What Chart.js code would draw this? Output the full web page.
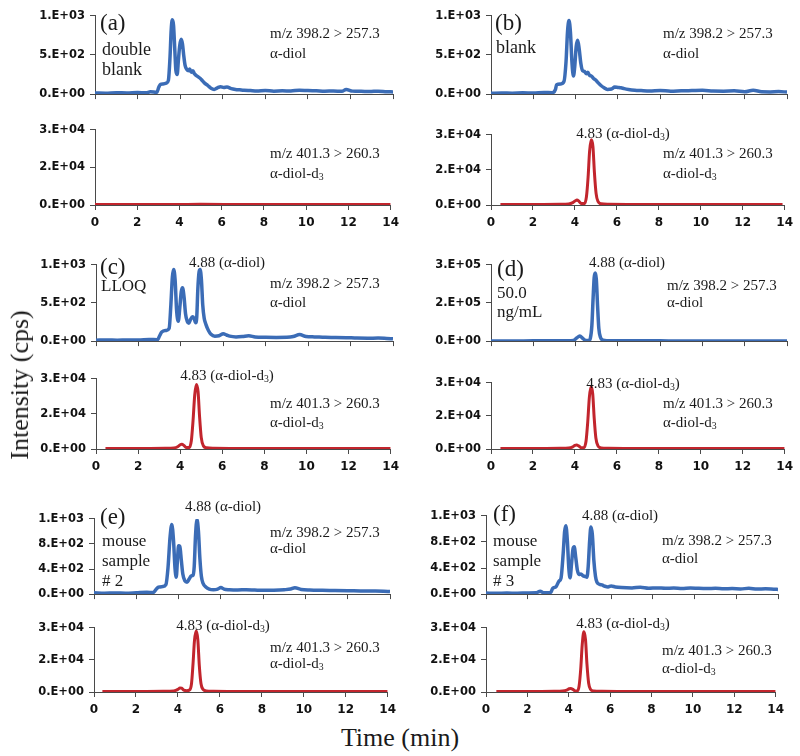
<!DOCTYPE html>
<html>
<head>
<meta charset="utf-8">
<script src="https://cdn.jsdelivr.net/npm/chart.js@4.4.0/dist/chart.umd.min.js"></script>
<style>
body { margin: 0; background: #fff; }
#fig { position: relative; width: 800px; height: 756px; overflow: hidden; }
#fig canvas { position: absolute; }
.t { position: absolute; font-family: "Liberation Serif", "Times New Roman", serif; color: #1a1a1a;
     white-space: nowrap; line-height: 1; transform: translateY(-50%); }
.t.c { transform: translate(-50%, -50%); }
.t sub { font-size: 65%; vertical-align: -0.3em; line-height: 0; }
</style>
</head>
<body>
<div id="fig"></div>
<script>
// tick labels (Excel "0.E+00" style)
const ticksDiol = ['0.E+00', '5.E+02', '1.E+03'];
const ticksDiolHi = ['0.E+00', '2.E+05', '3.E+05'];
const ticksMouse = ['0.E+00', '4.E+02', '8.E+02', '1.E+03'];
const ticksD3 = ['0.E+00', '2.E+04', '3.E+04'];

// m/z 398.2 > 257.3 (alpha-diol), [time min, cps]
const diolA = [[0,15],[0.5,12],[1,18],[1.5,14],[2,20],[2.4,16],[2.6,30],[2.9,22],[3.0,90],[3.08,125],[3.2,130],[3.35,140],
  [3.45,180],[3.52,450],[3.58,820],[3.63,950],[3.69,880],[3.75,560],[3.8,300],[3.86,250],[3.92,440],[3.98,620],[4.05,700],
  [4.11,640],[4.17,490],[4.23,370],[4.3,320],[4.38,300],[4.45,320],[4.52,280],[4.6,300],[4.67,260],[4.75,240],[4.85,220],
  [4.95,200],[5.05,170],[5.15,140],[5.3,110],[5.45,75],[5.6,60],[5.75,80],[5.9,95],[6.05,85],[6.2,90],[6.4,70],[6.6,60],
  [6.8,55],[7.0,50],[7.3,45],[7.6,40],[8.0,45],[8.4,38],[8.8,42],[9.2,40],[9.6,50],[10.0,45],[10.4,42],[10.8,38],[11.2,40],
  [11.6,35],[11.8,60],[12.1,38],[12.5,35],[12.9,32],[13.3,38],[13.7,30],[14,28]];
const diolB = [[0,10],[0.5,14],[1,12],[1.5,16],[2,14],[2.5,20],[2.9,18],[3.05,60],[3.1,120],[3.3,130],[3.45,160],[3.55,420],
  [3.62,800],[3.69,940],[3.76,780],[3.83,400],[3.9,230],[3.96,350],[4.03,610],[4.1,690],[4.17,580],[4.25,390],[4.33,300],
  [4.42,290],[4.5,260],[4.58,280],[4.66,240],[4.75,230],[4.85,200],[4.95,180],[5.05,150],[5.2,110],[5.35,80],[5.5,60],
  [5.7,65],[5.85,90],[6.0,85],[6.15,80],[6.3,70],[6.5,60],[6.8,50],[7.1,45],[7.5,40],[8,45],[8.5,38],[9,42],[9.5,45],
  [10,48],[10.5,40],[11,38],[11.5,42],[12,30],[12.4,50],[12.8,30],[13.2,28],[13.6,32],[14,26]];
const diolC = [[0,12],[0.5,15],[1,12],[1.5,15],[2,14],[2.5,22],[2.9,18],[3.0,70],[3.1,120],[3.3,140],[3.45,170],[3.53,480],
  [3.6,840],[3.66,940],[3.73,800],[3.8,400],[3.88,260],[3.95,440],[4.02,650],[4.08,700],[4.15,580],[4.22,360],[4.3,260],
  [4.38,235],[4.45,280],[4.55,320],[4.62,300],[4.7,240],[4.75,320],[4.8,680],[4.86,910],[4.91,940],[4.97,800],[5.03,480],
  [5.1,300],[5.18,220],[5.3,140],[5.42,90],[5.6,65],[5.8,70],[6.0,95],[6.15,80],[6.3,65],[6.6,55],[6.9,60],[7.2,70],
  [7.5,55],[8,50],[8.5,48],[9,50],[9.3,60],[9.6,85],[9.9,60],[10.3,55],[10.8,50],[11.3,48],[11.8,45],[12.3,40],[12.8,38],
  [13.3,40],[13.7,35],[14,30]];
const diolD = [[0,800],[1,800],[2,900],[3,900],[3.6,1200],[3.9,3000],[4.05,12000],[4.2,20000],[4.35,10000],[4.5,2000],
  [4.62,2000],[4.7,12000],[4.77,60000],[4.83,170000],[4.88,250000],[4.93,268000],[4.98,245000],[5.04,140000],[5.1,50000],
  [5.18,14000],[5.3,4000],[5.5,1500],[6,1000],[8,900],[10,800],[12,800],[14,700]];
const diolE = [[0,20],[0.5,15],[1,18],[1.5,15],[2,22],[2.5,30],[2.8,25],[2.95,80],[3.05,110],[3.25,120],[3.4,150],[3.5,420],
  [3.6,920],[3.68,1110],[3.76,860],[3.83,420],[3.89,270],[3.95,560],[4.0,770],[4.06,760],[4.13,540],[4.2,320],[4.3,210],
  [4.4,190],[4.5,240],[4.6,290],[4.68,300],[4.74,440],[4.8,920],[4.87,1190],[4.94,1000],[5.01,560],[5.08,280],[5.16,170],
  [5.3,110],[5.45,80],[5.65,70],[5.85,80],[6.0,105],[6.15,80],[6.4,70],[6.8,65],[7.2,70],[7.6,65],[8,60],[8.5,62],[9,70],
  [9.3,80],[9.5,100],[9.8,75],[10.2,65],[10.8,60],[11.4,58],[12,55],[12.6,50],[13.2,48],[13.7,45],[14,40]];
const diolF = [[0,15],[0.5,12],[1,15],[1.5,14],[2,18],[2.4,20],[2.6,45],[2.75,20],[3.1,25],[3.2,90],[3.35,110],[3.5,200],
  [3.6,250],[3.7,620],[3.77,960],[3.83,1050],[3.9,820],[3.97,400],[4.03,250],[4.1,460],[4.17,690],[4.23,725],[4.3,570],
  [4.38,370],[4.46,300],[4.55,310],[4.65,280],[4.75,270],[4.84,260],[4.9,420],[4.97,820],[5.03,1030],[5.1,910],[5.17,520],
  [5.25,270],[5.32,180],[5.45,150],[5.56,140],[5.7,120],[5.85,110],[6.0,125],[6.2,110],[6.5,100],[7,95],[7.4,105],[7.8,90],
  [8.2,95],[8.6,90],[9,92],[9.4,85],[9.8,95],[10.2,88],[10.6,85],[11,90],[11.4,82],[11.8,85],[12.2,80],[12.6,88],[13,78],
  [13.4,82],[13.8,75],[14,72]];

// m/z 401.3 > 260.3 (alpha-diol-d3)
const d3A = [[0,150],[2,170],[4,220],[5,250],[7,200],[10,180],[14,150]];
const d3B = [[0.45,200],[1.5,220],[2.5,250],[3.3,280],[3.7,400],[3.9,1000],[4.02,1800],[4.1,2100],[4.2,1500],[4.32,600],
  [4.45,600],[4.55,3500],[4.63,12000],[4.7,23000],[4.78,27900],[4.86,25000],[4.93,14000],[5.01,5000],[5.1,1500],[5.25,500],
  [5.6,300],[6.5,250],[8,250],[10,230],[12,220],[13.9,200]];
const d3C = [[0.45,200],[1.5,220],[2.5,250],[3.3,300],[3.7,450],[3.9,1100],[4.0,1800],[4.08,2000],[4.18,1500],[4.3,600],
  [4.42,600],[4.53,3500],[4.61,12000],[4.69,23000],[4.77,27600],[4.85,24500],[4.92,14000],[5.0,5000],[5.1,1400],[5.25,500],
  [5.6,300],[6.5,250],[8,240],[10,230],[12,220],[14,200]];
const d3D = [[0.45,200],[1.5,220],[2.5,250],[3.3,300],[3.7,450],[3.9,1000],[4.0,1600],[4.08,1800],[4.18,1400],[4.3,600],
  [4.42,600],[4.53,3500],[4.61,12000],[4.69,23500],[4.77,28200],[4.85,25000],[4.92,14000],[5.0,5000],[5.1,1400],[5.25,500],
  [5.6,300],[6.5,250],[8,240],[10,230],[12,220],[14,200]];
const d3E = [[0.4,200],[1.5,220],[2.5,250],[3.3,300],[3.8,500],[4.0,1200],[4.1,1900],[4.18,1800],[4.28,900],[4.42,600],
  [4.55,900],[4.65,4000],[4.72,13000],[4.79,24000],[4.87,28500],[4.95,24500],[5.02,12500],[5.1,4000],[5.2,1200],[5.35,500],
  [5.7,300],[6.5,250],[8,240],[10,230],[12,220],[14,200]];
const d3F = [[0.5,200],[1.5,220],[2.5,250],[3.3,300],[3.7,450],[3.9,900],[4.02,1500],[4.1,1600],[4.2,1200],[4.32,500],
  [4.42,550],[4.5,2800],[4.58,11000],[4.65,22000],[4.73,28200],[4.81,24500],[4.88,13000],[4.96,4200],[5.05,1300],[5.2,500],
  [5.6,300],[6.5,250],[8,240],[10,230],[12,220],[14,200]];

const BLUE = '#3b6cb6';
const RED = '#c2252d';
const AXIS = '#4a4a4a';

Chart.defaults.font.family = '"DejaVu Sans", sans-serif';
Chart.defaults.font.weight = 'bold';
Chart.defaults.font.size = 11.5;
Chart.defaults.color = '#111';

// col = left edge of the panel's canvas; left/right/top/bottom = plot area on the page
const panels = [
  {col: 0,   left: 95,  right: 393, top: 14,  bottom: 100, data: diolA, color: BLUE, lw: 3.5, yMax: 1000,   yTicks: ticksDiol,   xLabels: false},
  {col: 0,   left: 95,  right: 393, top: 128, bottom: 205, data: d3A,   color: RED,  lw: 3,   yMax: 30000,  yTicks: ticksD3,     xLabels: true},
  {col: 400, left: 491, right: 787, top: 14,  bottom: 100, data: diolB, color: BLUE, lw: 3.5, yMax: 1000,   yTicks: ticksDiol,   xLabels: false},
  {col: 400, left: 491, right: 787, top: 133, bottom: 205, data: d3B,   color: RED,  lw: 3,   yMax: 30000,  yTicks: ticksD3,     xLabels: true},
  {col: 0,   left: 96,  right: 393, top: 263, bottom: 347, data: diolC, color: BLUE, lw: 3.5, yMax: 1000,   yTicks: ticksDiol,   xLabels: false},
  {col: 0,   left: 96,  right: 393, top: 377, bottom: 449, data: d3C,   color: RED,  lw: 3,   yMax: 30000,  yTicks: ticksD3,     xLabels: true},
  {col: 400, left: 491, right: 787, top: 263, bottom: 347, data: diolD, color: BLUE, lw: 3.5, yMax: 300000, yTicks: ticksDiolHi, xLabels: false},
  {col: 400, left: 491, right: 787, top: 381, bottom: 449, data: d3D,   color: RED,  lw: 3,   yMax: 30000,  yTicks: ticksD3,     xLabels: true},
  {col: 0,   left: 94,  right: 390, top: 517, bottom: 600, data: diolE, color: BLUE, lw: 3.5, yMax: 1200,   yTicks: ticksMouse,  xLabels: false},
  {col: 0,   left: 94,  right: 390, top: 626, bottom: 692, data: d3E,   color: RED,  lw: 3,   yMax: 30000,  yTicks: ticksD3,     xLabels: true},
  {col: 400, left: 486, right: 778, top: 514, bottom: 600, data: diolF, color: BLUE, lw: 3.5, yMax: 1200,   yTicks: ticksMouse,  xLabels: false},
  {col: 400, left: 486, right: 778, top: 626, bottom: 692, data: d3F,   color: RED,  lw: 3,   yMax: 30000,  yTicks: ticksD3,     xLabels: true},
];

const fig = document.getElementById('fig');

panels.forEach(p => {
  const padTop = 10, padRight = 12;
  const xh = p.xLabels ? 28 : 6;
  const cv = document.createElement('canvas');
  cv.width = p.right - p.col + padRight;
  cv.height = padTop + (p.bottom - p.top) + xh;
  cv.style.left = p.col + 'px';
  cv.style.top = (p.top - padTop) + 'px';
  fig.appendChild(cv);

  new Chart(cv, {
    type: 'line',
    data: {
      datasets: [{
        data: p.data.map(([x, y]) => ({x, y})),
        borderColor: p.color,
        borderWidth: p.lw,
        pointRadius: 0,
        cubicInterpolationMode: 'monotone',
        fill: false
      }]
    },
    options: {
      responsive: false,
      animation: false,
      events: [],
      layout: {padding: {top: padTop, right: padRight, left: 0, bottom: 0}},
      plugins: {legend: {display: false}, tooltip: {enabled: false}},
      scales: {
        x: {
          type: 'linear', min: 0, max: 14,
          ticks: {stepSize: 2, display: p.xLabels, padding: 6, maxRotation: 0, font: {size: 12}},
          grid: {drawOnChartArea: false, tickLength: 5, color: AXIS},
          border: {color: AXIS, width: 1},
          afterFit: s => { s.height = xh; }
        },
        y: {
          min: 0, max: p.yMax,
          ticks: {
            stepSize: p.yMax / (p.yTicks.length - 1),
            callback: (v, i) => p.yTicks[i],
            padding: 5
          },
          grid: {drawOnChartArea: false, tickLength: 5, color: AXIS},
          border: {color: AXIS, width: 1},
          afterFit: s => { s.width = p.left - p.col; }
        }
      }
    }
  });
});

// annotations: [html, x, y, size, centred]
const notes = [
  ['(a)', 100, 22, 23], ['double', 102, 49, 18], ['blank', 102, 69, 18],
  ['m/z 398.2 &gt; 257.3', 270, 33, 15], ['α-diol', 270, 53, 15],
  ['m/z 401.3 &gt; 260.3', 270, 153, 15], ['α-diol-d<sub>3</sub>', 270, 173, 15],

  ['(b)', 495, 22, 23], ['blank', 496, 47, 18],
  ['m/z 398.2 &gt; 257.3', 663, 33, 15], ['α-diol', 663, 53, 15],
  ['4.83 (α-diol-d<sub>3</sub>)', 623, 133, 15, true],
  ['m/z 401.3 &gt; 260.3', 663, 153, 15], ['α-diol-d<sub>3</sub>', 663, 173, 15],

  ['(c)', 100, 266, 23], ['LLOQ', 101, 285, 17],
  ['4.88 (α-diol)', 227, 262, 15, true],
  ['m/z 398.2 &gt; 257.3', 270, 283, 15], ['α-diol', 270, 302, 15],
  ['4.83 (α-diol-d<sub>3</sub>)', 227, 375, 15, true],
  ['m/z 401.3 &gt; 260.3', 270, 403, 15], ['α-diol-d<sub>3</sub>', 270, 422, 15],

  ['(d)', 497, 268, 23], ['50.0', 497, 292, 17], ['ng/mL', 497, 311, 17],
  ['4.88 (α-diol)', 627, 262, 15, true],
  ['m/z 398.2 &gt; 257.3', 667, 285, 15], ['α-diol', 667, 302, 15],
  ['4.83 (α-diol-d<sub>3</sub>)', 633, 383, 15, true],
  ['m/z 401.3 &gt; 260.3', 663, 403, 15], ['α-diol-d<sub>3</sub>', 663, 422, 15],

  ['(e)', 100, 516, 23], ['mouse', 102, 540, 17], ['sample', 102, 560, 17], ['# 2', 102, 580, 17],
  ['4.88 (α-diol)', 223, 506, 15, true],
  ['m/z 398.2 &gt; 257.3', 270, 532, 15], ['α-diol', 270, 548, 15],
  ['4.83 (α-diol-d<sub>3</sub>)', 223, 625, 15, true],
  ['m/z 401.3 &gt; 260.3', 270, 647, 15], ['α-diol-d<sub>3</sub>', 270, 663, 15],

  ['(f)', 493, 513, 23], ['mouse', 493, 540, 17], ['sample', 493, 560, 17], ['# 3', 493, 580, 17],
  ['4.88 (α-diol)', 620, 515, 15, true],
  ['m/z 398.2 &gt; 257.3', 662, 540, 15], ['α-diol', 662, 558, 15],
  ['4.83 (α-diol-d<sub>3</sub>)', 623, 623, 15, true],
  ['m/z 401.3 &gt; 260.3', 662, 650, 15], ['α-diol-d<sub>3</sub>', 662, 668, 15],
];

notes.forEach(([html, x, y, size, centred]) => {
  const d = document.createElement('div');
  d.className = centred ? 't c' : 't';
  d.innerHTML = html;
  d.style.left = x + 'px';
  d.style.top = y + 'px';
  d.style.fontSize = size + 'px';
  fig.appendChild(d);
});

// axis titles
const yTitle = document.createElement('div');
yTitle.className = 't c';
yTitle.textContent = 'Intensity (cps)';
yTitle.style.cssText = 'left:20px;top:385px;font-size:26px;transform:translate(-50%,-50%) rotate(-90deg);';
fig.appendChild(yTitle);

const xTitle = document.createElement('div');
xTitle.className = 't c';
xTitle.textContent = 'Time (min)';
xTitle.style.cssText = 'left:400px;top:738px;font-size:26px;';
fig.appendChild(xTitle);
</script>
</body>
</html>
